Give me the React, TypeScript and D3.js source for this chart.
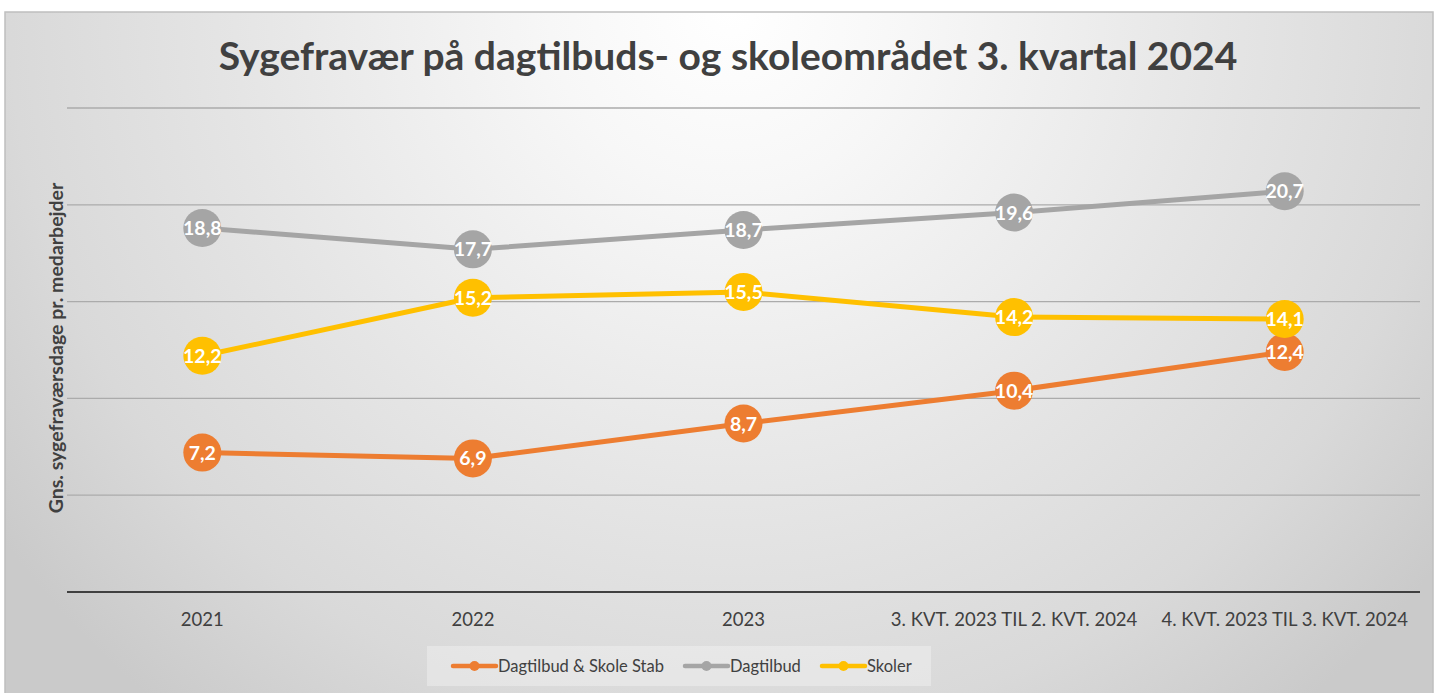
import React from 'react';
import * as d3 from 'd3';

const categories = ['2021', '2022', '2023', '3. KVT. 2023 TIL 2. KVT. 2024', '4. KVT. 2023 TIL 3. KVT. 2024'];
const stab = [7.2, 6.9, 8.7, 10.4, 12.4];
const dagtilbud = [18.8, 17.7, 18.7, 19.6, 20.7];
const skoler = [12.2, 15.2, 15.5, 14.2, 14.1];
const yTicks = [0, 5, 10, 15, 20, 25];

const series = [
  { name: 'Dagtilbud & Skole Stab', values: stab, color: '#ED7D31' },
  { name: 'Dagtilbud', values: dagtilbud, color: '#A5A5A5' },
  { name: 'Skoler', values: skoler, color: '#FFC000' },
];

const W = 1438;
const H = 693;
const margin = { left: 67, right: 18, top: 108, bottom: 101 };
const font = 'Lato, "Open Sans", sans-serif';

export default function App() {
  const x = d3.scaleBand<string>()
    .domain(categories)
    .range([margin.left, W - margin.right]);
  const y = d3.scaleLinear().domain([0, 25]).range([H - margin.bottom, margin.top]);
  const cx = (c: string) => (x(c) ?? 0) + x.bandwidth() / 2;

  const line = d3.line<number>()
    .x((_, i) => cx(categories[i]))
    .y(d => y(d));

  // legend layout
  const legendItems = [
    { s: series[0], x: 453 },
    { s: series[1], x: 685 },
    { s: series[2], x: 822 },
  ];

  return (
    <div style={{ position: 'fixed', left: 0, top: 0 }}>
      <svg width={W} height={H} style={{ display: 'block' }}>
        <defs>
          <radialGradient id="bg" gradientUnits="userSpaceOnUse" cx={730} cy={10} r={900}>
            <stop offset="0" stopColor="#ffffff" />
            <stop offset="0.2" stopColor="#f7f7f7" />
            <stop offset="0.55" stopColor="#e5e5e5" />
            <stop offset="0.8" stopColor="#d9d9d9" />
            <stop offset="1" stopColor="#cacaca" />
          </radialGradient>
        </defs>
        <rect x={0} y={0} width={W} height={H} fill="#ffffff" />
        <rect x={5} y={12} width={1428} height={700} fill="url(#bg)" stroke="#bfbfbf" strokeWidth={1.5} />

        {/* gridlines */}
        {yTicks.map(t => (
          <line key={t} x1={margin.left} x2={W - margin.right} y1={y(t)} y2={y(t)}
            stroke={t === 0 ? '#404040' : '#ababab'} strokeWidth={t === 0 ? 2.2 : 1.3} />
        ))}

        {/* title */}
        <text x={728} y={70} textAnchor="middle" fontFamily={font} fontWeight="bold"
          fontSize={39} fill="#404040">Sygefravær på dagtilbuds- og skoleområdet 3. kvartal 2024</text>

        {/* y axis title */}
        <text transform={`translate(63,${348}) rotate(-90)`} textAnchor="middle"
          fontFamily={font} fontWeight="bold" fontSize={19.5} fill="#404040">
          Gns. sygefraværsdage pr. medarbejder
        </text>

        {/* x labels */}
        {categories.map(c => (
          <text key={c} x={cx(c)} y={626} textAnchor="middle" fontFamily={font}
            fontSize={18.5} fill="#404040">{c}</text>
        ))}

        {/* series */}
        {series.map(s => (
          <path key={s.name} d={line(s.values) ?? ''} fill="none" stroke={s.color} strokeWidth={5} strokeLinejoin="round" />
        ))}
        {series.map(s => (
          <g key={s.name + 'm'}>
            {s.values.map((v, i) => (
              <g key={i}>
                <circle cx={cx(categories[i])} cy={y(v)} r={19} fill={s.color} />
                <text x={cx(categories[i])} y={y(v) + 7} textAnchor="middle" fontFamily={font}
                  fontWeight="bold" fontSize={19.5} fill="#ffffff">{v.toFixed(1).replace('.', ',')}</text>
              </g>
            ))}
          </g>
        ))}

        {/* legend */}
        <rect x={427} y={646} width={504} height={40} fill="#ffffff" fillOpacity={0.3} />
        {legendItems.map(({ s, x: lx }) => (
          <g key={s.name}>
            <line x1={lx} x2={lx + 43} y1={666} y2={666} stroke={s.color} strokeWidth={4.5} strokeLinecap="round" />
            <circle cx={lx + 21.5} cy={666} r={5} fill={s.color} />
            <text x={lx + 45} y={672} fontFamily={font} fontSize={16.5} fill="#404040">{s.name}</text>
          </g>
        ))}
      </svg>
    </div>
  );
}
